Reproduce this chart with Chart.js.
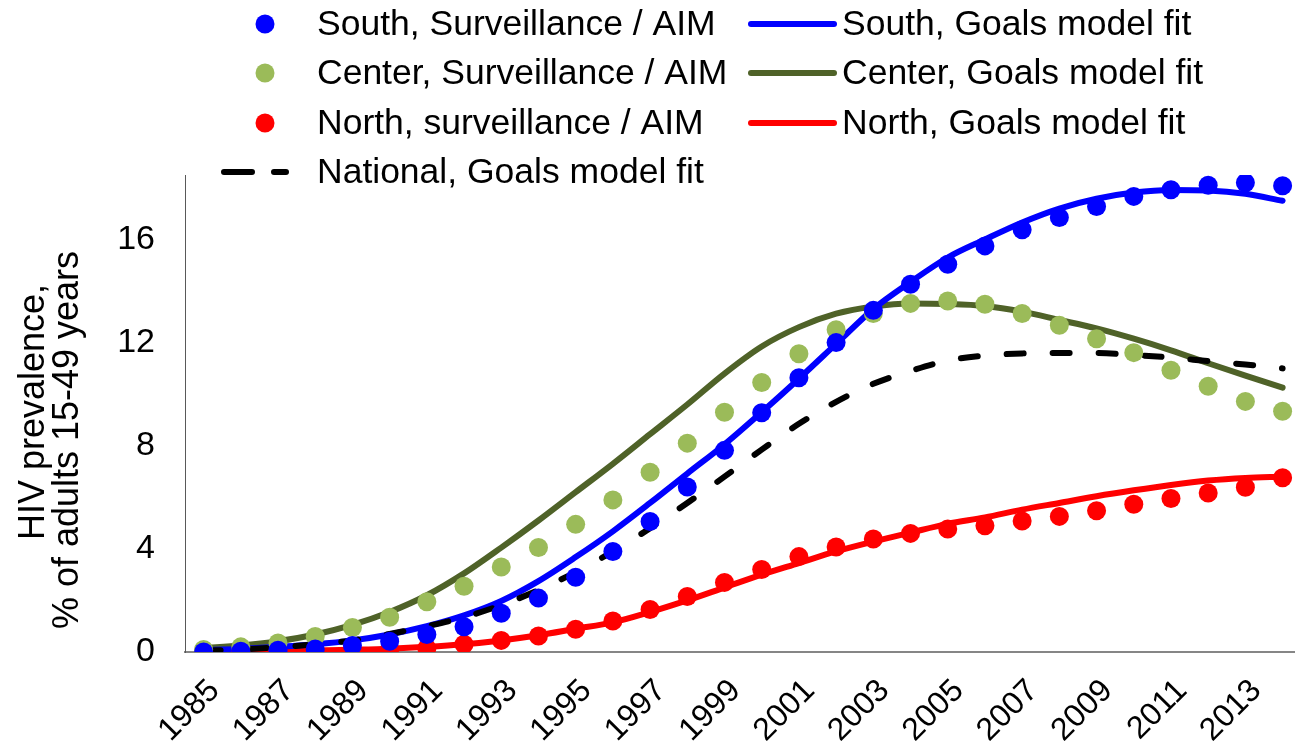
<!DOCTYPE html>
<html>
<head>
<meta charset="utf-8">
<script src="https://cdn.jsdelivr.net/npm/chart.js@4.4.1/dist/chart.umd.min.js"></script>
<style>
  html, body { margin: 0; padding: 0; background: #ffffff; overflow: hidden; }
  canvas { display: block; }
</style>
</head>
<body>
<canvas id="prevalence" width="1304" height="744"></canvas>
<script>
// Survey years
const years = [1985, 1986, 1987, 1988, 1989, 1990, 1991, 1992, 1993, 1994,
               1995, 1996, 1997, 1998, 1999, 2000, 2001, 2002, 2003, 2004,
               2005, 2006, 2007, 2008, 2009, 2010, 2011, 2012, 2013, 2014];
const xTickYears = [1985, 1987, 1989, 1991, 1993, 1995, 1997, 1999, 2001, 2003, 2005, 2007, 2009, 2011, 2013];
const yTickValues = [0, 4, 8, 12, 16];
const yTitleLines = ['HIV prevalence,', '% of adults 15-49 years'];

// HIV prevalence, % of adults 15-49
const southObserved = [0.0, 0.03, 0.07, 0.12, 0.25, 0.42, 0.68, 0.98, 1.5, 2.09,
                       2.9, 3.9, 5.06, 6.4, 7.82, 9.28, 10.64, 12.0, 13.25, 14.26,
                       15.04, 15.75, 16.38, 16.85, 17.28, 17.67, 17.93, 18.1, 18.2, 18.08];
const southFit = [0.08, 0.12, 0.2, 0.3, 0.45, 0.68, 1.0, 1.42, 1.98, 2.75,
                  3.68, 4.68, 5.78, 6.92, 8.05, 9.3, 10.6, 11.95, 13.3, 14.35,
                  15.3, 16.0, 16.66, 17.2, 17.58, 17.82, 17.92, 17.9, 17.77, 17.5];
const centerObserved = [0.1, 0.2, 0.35, 0.6, 0.95, 1.35, 1.95, 2.55, 3.3, 4.05,
                        4.95, 5.9, 6.97, 8.1, 9.3, 10.45, 11.57, 12.5, 13.13, 13.52,
                        13.61, 13.49, 13.13, 12.67, 12.15, 11.61, 10.93, 10.31, 9.72, 9.34];
const centerFit = [0.15, 0.25, 0.42, 0.68, 1.05, 1.55, 2.2, 3.05, 4.05, 5.1,
                   6.2, 7.3, 8.45, 9.6, 10.8, 11.85, 12.6, 13.12, 13.4, 13.52,
                   13.5, 13.42, 13.2, 12.88, 12.55, 12.15, 11.7, 11.2, 10.72, 10.25];
const northObserved = [0.0, 0.0, 0.02, 0.04, 0.07, 0.1, 0.15, 0.3, 0.45, 0.62,
                       0.88, 1.2, 1.65, 2.15, 2.7, 3.2, 3.7, 4.07, 4.38, 4.6,
                       4.77, 4.9, 5.08, 5.26, 5.48, 5.73, 5.95, 6.17, 6.39, 6.76];
const northFit = [0.0, 0.02, 0.04, 0.06, 0.09, 0.13, 0.2, 0.3, 0.45, 0.65,
                  0.9, 1.15, 1.55, 2.0, 2.5, 3.0, 3.45, 3.9, 4.28, 4.63,
                  4.97, 5.22, 5.52, 5.78, 6.04, 6.27, 6.48, 6.65, 6.75, 6.8];
const nationalFit = [0.05, 0.1, 0.18, 0.3, 0.45, 0.7, 1.0, 1.35, 1.82, 2.4,
                     3.1, 3.9, 4.8, 5.78, 6.8, 7.85, 8.85, 9.7, 10.4, 10.9,
                     11.3, 11.5, 11.58, 11.6, 11.6, 11.52, 11.42, 11.28, 11.15, 11.0];

const FONT = '"Liberation Sans", Arial, Helvetica, sans-serif';
const BLUE = '#0000ff', GREEN = '#9bbb59', OLIVE = '#4f6228', RED = '#ff0000';

const toPoints = vals => years.map((yr, i) => ({ x: yr, y: vals[i] }));

function dots(label, vals, color) {
  return {
    label, data: toPoints(vals), showLine: false,
    pointRadius: 9.5, pointHoverRadius: 9.5, pointBorderWidth: 0,
    backgroundColor: color, borderColor: color, order: 1
  };
}
function curve(label, vals, color, dash) {
  return {
    label, data: toPoints(vals), showLine: true, pointRadius: 0,
    borderColor: color, backgroundColor: color, borderWidth: 6,
    borderCapStyle: 'round', borderJoinStyle: 'round',
    borderDash: dash || [], cubicInterpolationMode: 'monotone',
    order: dash ? 2 : 3
  };
}

// Two-column legend above the plot: [column, row] for each dataset
const legendSlots = [[0, 0], [1, 0], [0, 1], [1, 1], [0, 2], [1, 2], [0, 3]];
const legendGrid = {
  id: 'legendGrid',
  afterDraw(chart) {
    const ctx = chart.ctx;
    const rowY = [24, 73, 123, 172];
    ctx.save();
    ctx.font = '35.5px ' + FONT;
    ctx.textBaseline = 'middle';
    chart.data.datasets.forEach((ds, i) => {
      const [col, row] = legendSlots[i];
      const y = rowY[row];
      if (ds.showLine === false) {
        ctx.fillStyle = ds.backgroundColor;
        ctx.beginPath();
        ctx.arc(265, y, 9.5, 0, Math.PI * 2);
        ctx.fill();
      } else {
        ctx.strokeStyle = ds.borderColor;
        ctx.lineWidth = 6;
        ctx.lineCap = 'round';
        ctx.beginPath();
        if (col === 0) {
          ctx.setLineDash([28, 22]);
          ctx.moveTo(224, y); ctx.lineTo(286, y);
        } else {
          ctx.setLineDash([]);
          ctx.moveTo(751, y); ctx.lineTo(834, y);
        }
        ctx.stroke();
        ctx.setLineDash([]);
      }
      ctx.fillStyle = '#000000';
      ctx.textAlign = 'left';
      ctx.fillText(ds.label, col === 0 ? 317 : 842, y + 1);
    });
    ctx.restore();
  }
};

// Rotated two-line title for the value axis
const valueAxisTitle = {
  id: 'valueAxisTitle',
  afterDraw(chart) {
    const ctx = chart.ctx;
    const centers = [[34, 412], [68, 440]];
    ctx.save();
    ctx.font = '36px ' + FONT;
    ctx.fillStyle = '#000000';
    ctx.textAlign = 'center';
    ctx.textBaseline = 'middle';
    yTitleLines.forEach((line, i) => {
      ctx.save();
      ctx.translate(centers[i][0], centers[i][1]);
      ctx.rotate(-Math.PI / 2);
      ctx.fillText(line, 0, 0);
      ctx.restore();
    });
    ctx.restore();
  }
};

new Chart(document.getElementById('prevalence'), {
  type: 'scatter',
  data: {
    datasets: [
      dots('South, Surveillance / AIM', southObserved, BLUE),
      curve('South, Goals model fit', southFit, BLUE),
      dots('Center, Surveillance / AIM', centerObserved, GREEN),
      curve('Center, Goals model fit', centerFit, OLIVE),
      dots('North, surveillance / AIM', northObserved, RED),
      curve('North, Goals model fit', northFit, RED),
      curve('National, Goals model fit', nationalFit, '#000000', [17, 29])
    ]
  },
  options: {
    responsive: false,
    animation: false,
    devicePixelRatio: 1,
    layout: { padding: { top: 175, left: 0, right: 0, bottom: 0 } },
    plugins: { legend: { display: false }, tooltip: { enabled: false } },
    scales: {
      x: {
        type: 'linear',
        min: 1984.5,
        max: 2014.32,
        grid: { display: false, drawTicks: false },
        border: { display: true, color: '#868686', width: 2 },
        afterBuildTicks: s => { s.ticks = xTickYears.map(v => ({ value: v })); },
        afterFit: s => { s.height = 92; },
        ticks: {
          autoSkip: false, maxRotation: 45, minRotation: 45, padding: 20,
          labelOffset: 11,
          color: '#000000', font: { family: FONT, size: 32 },
          callback: v => String(v)
        }
      },
      y: {
        min: 0,
        max: 18.5,
        grid: { display: false, drawTicks: false },
        border: { display: true, color: '#595959', width: 1 },
        afterBuildTicks: s => { s.ticks = yTickValues.map(v => ({ value: v })); },
        afterFit: s => { s.width = 185; },
        ticks: {
          padding: 30, color: '#000000', font: { family: FONT, size: 34 },
          callback: v => String(v)
        }
      }
    }
  },
  plugins: [legendGrid, valueAxisTitle]
});
</script>
</body>
</html>
